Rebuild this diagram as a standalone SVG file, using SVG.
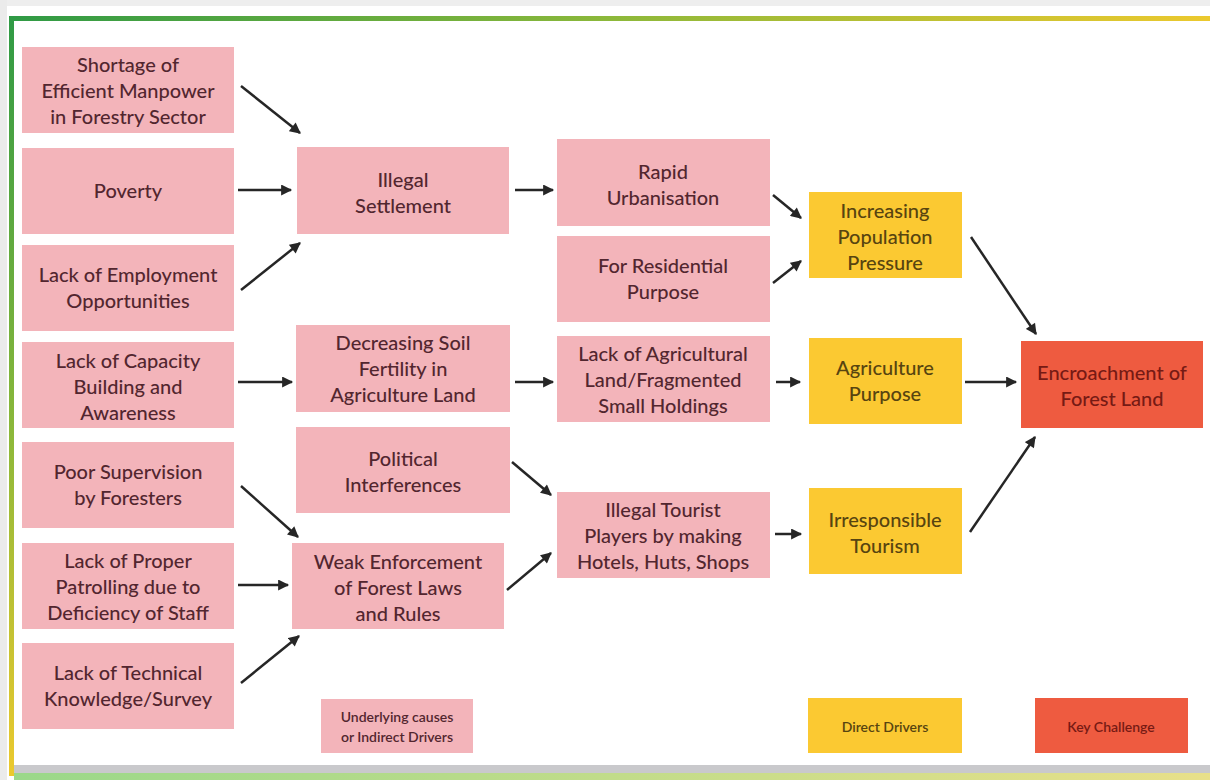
<svg xmlns="http://www.w3.org/2000/svg" width="1210" height="780" viewBox="0 0 1210 780">
<defs>
<linearGradient id="gTop" x1="0" y1="0" x2="1" y2="0">
<stop offset="0" stop-color="#2f9a45"/>
<stop offset="0.5" stop-color="#8cb83a"/>
<stop offset="1" stop-color="#ecc92e"/>
</linearGradient>
<linearGradient id="gLeft" x1="0" y1="0" x2="0" y2="1">
<stop offset="0" stop-color="#2f9a45"/>
<stop offset="0.55" stop-color="#8cb83a"/>
<stop offset="1" stop-color="#ecc92e"/>
</linearGradient>
<linearGradient id="gBot" x1="0" y1="0" x2="1" y2="0">
<stop offset="0" stop-color="#9ad88a"/>
<stop offset="1" stop-color="#e8e08a"/>
</linearGradient>
<marker id="ah" viewBox="0 0 10 10" refX="9" refY="5" markerWidth="4.8" markerHeight="4.4" orient="auto" markerUnits="strokeWidth">
<path d="M0,0 L10,5 L0,10 z" fill="#262626"/>
</marker>
</defs>
<style>
.p{fill:#f3b4ba}
.y{fill:#fbc932}
.r{fill:#ee5b40}
text{font-family:Lato,"Open Sans","Liberation Sans",sans-serif;font-size:20px;font-weight:500;text-anchor:middle;dominant-baseline:central}
.tp{fill:#52262f}
.ty{fill:#574410}
.tr{fill:#761a14}
.sm{font-size:14px;font-weight:600}
.c line{stroke:#262626;stroke-width:2.5;marker-end:url(#ah)}
</style>
<rect width="1210" height="780" fill="#ffffff"/>
<rect x="0" y="0" width="1210" height="6" fill="#eeeeee"/>
<rect x="0" y="0" width="7" height="780" fill="#ebebeb"/>
<rect x="9" y="16" width="1201" height="5" fill="url(#gTop)"/>
<rect x="9" y="16" width="5" height="760" fill="url(#gLeft)"/>
<rect x="14" y="765" width="1196" height="8" fill="#c9c9cc"/>
<rect x="14" y="773" width="1196" height="7" fill="url(#gBot)"/>

<g id="n-shortage"><rect class="p" x="22" y="47" width="212" height="86"/><text class="tp" x="128" y="64">Shortage of</text><text class="tp" x="128" y="90">Efficient Manpower</text><text class="tp" x="128" y="116">in Forestry Sector</text></g>
<g id="n-poverty"><rect class="p" x="22" y="148" width="212" height="86"/><text class="tp" x="128" y="190">Poverty</text></g>
<g id="n-employment"><rect class="p" x="22" y="245" width="212" height="86"/><text class="tp" x="128" y="274">Lack of Employment</text><text class="tp" x="128" y="300">Opportunities</text></g>
<g id="n-capacity"><rect class="p" x="22" y="342" width="212" height="86"/><text class="tp" x="128" y="360">Lack of Capacity</text><text class="tp" x="128" y="386">Building and</text><text class="tp" x="128" y="412">Awareness</text></g>
<g id="n-supervision"><rect class="p" x="22" y="442" width="212" height="86"/><text class="tp" x="128" y="471">Poor Supervision</text><text class="tp" x="128" y="497">by Foresters</text></g>
<g id="n-patrolling"><rect class="p" x="22" y="543" width="212" height="86"/><text class="tp" x="128" y="560">Lack of Proper</text><text class="tp" x="128" y="586">Patrolling due to</text><text class="tp" x="128" y="612">Deficiency of Staff</text></g>
<g id="n-technical"><rect class="p" x="22" y="643" width="212" height="86"/><text class="tp" x="128" y="672">Lack of Technical</text><text class="tp" x="128" y="698">Knowledge/Survey</text></g>

<g id="n-settlement"><rect class="p" x="297" y="147" width="212" height="87"/><text class="tp" x="403" y="179">Illegal</text><text class="tp" x="403" y="205">Settlement</text></g>
<g id="n-soil"><rect class="p" x="296" y="325" width="214" height="87"/><text class="tp" x="403" y="342">Decreasing Soil</text><text class="tp" x="403" y="368">Fertility in</text><text class="tp" x="403" y="394">Agriculture Land</text></g>
<g id="n-political"><rect class="p" x="296" y="427" width="214" height="86"/><text class="tp" x="403" y="458">Political</text><text class="tp" x="403" y="484">Interferences</text></g>
<g id="n-weak"><rect class="p" x="292" y="543" width="212" height="86"/><text class="tp" x="398" y="561">Weak Enforcement</text><text class="tp" x="398" y="587">of Forest Laws</text><text class="tp" x="398" y="613">and Rules</text></g>

<g id="n-urban"><rect class="p" x="557" y="139" width="213" height="87"/><text class="tp" x="663" y="171">Rapid</text><text class="tp" x="663" y="197">Urbanisation</text></g>
<g id="n-residential"><rect class="p" x="557" y="236" width="213" height="86"/><text class="tp" x="663" y="265">For Residential</text><text class="tp" x="663" y="291">Purpose</text></g>
<g id="n-agland"><rect class="p" x="557" y="336" width="213" height="86"/><text class="tp" x="663" y="353">Lack of Agricultural</text><text class="tp" x="663" y="379">Land/Fragmented</text><text class="tp" x="663" y="405">Small Holdings</text></g>
<g id="n-tourist"><rect class="p" x="557" y="492" width="213" height="86"/><text class="tp" x="663" y="509">Illegal Tourist</text><text class="tp" x="663" y="535">Players by making</text><text class="tp" x="663" y="561">Hotels, Huts, Shops</text></g>

<g id="n-population"><rect class="y" x="809" y="192" width="153" height="86"/><text class="ty" x="885" y="210">Increasing</text><text class="ty" x="885" y="236">Population</text><text class="ty" x="885" y="262">Pressure</text></g>
<g id="n-agriculture"><rect class="y" x="809" y="338" width="153" height="86"/><text class="ty" x="885" y="367">Agriculture</text><text class="ty" x="885" y="393">Purpose</text></g>
<g id="n-tourism"><rect class="y" x="809" y="488" width="153" height="86"/><text class="ty" x="885" y="519">Irresponsible</text><text class="ty" x="885" y="545">Tourism</text></g>

<g id="n-encroachment"><rect class="r" x="1021" y="341" width="182" height="87"/><text class="tr" x="1112" y="372">Encroachment of</text><text class="tr" x="1112" y="398">Forest Land</text></g>

<g id="legend-indirect"><rect class="p" x="321" y="699" width="152" height="54"/><text class="tp sm" x="397" y="716">Underlying causes</text><text class="tp sm" x="397" y="736">or Indirect Drivers</text></g>
<g id="legend-direct"><rect class="y" x="808" y="698" width="154" height="55"/><text class="ty sm" x="885" y="726">Direct Drivers</text></g>
<g id="legend-key"><rect class="r" x="1035" y="698" width="153" height="55"/><text class="tr sm" x="1111" y="726">Key Challenge</text></g>

<g id="connectors" class="c">
<line x1="241" y1="86" x2="300" y2="133"/>
<line x1="238" y1="190" x2="291" y2="190"/>
<line x1="241" y1="290" x2="300" y2="243"/>
<line x1="515" y1="190" x2="553" y2="190"/>
<line x1="773" y1="195" x2="801" y2="218"/>
<line x1="773" y1="283" x2="801" y2="261"/>
<line x1="971" y1="237" x2="1036" y2="334"/>
<line x1="238" y1="382" x2="292" y2="382"/>
<line x1="515" y1="382" x2="553" y2="382"/>
<line x1="776" y1="382" x2="800" y2="382"/>
<line x1="965" y1="382" x2="1016" y2="382"/>
<line x1="512" y1="462" x2="551" y2="495"/>
<line x1="507" y1="590" x2="551" y2="553"/>
<line x1="775" y1="534" x2="801" y2="534"/>
<line x1="970" y1="532" x2="1035" y2="437"/>
<line x1="241" y1="486" x2="298" y2="537"/>
<line x1="238" y1="585" x2="288" y2="585"/>
<line x1="241" y1="683" x2="299" y2="636"/>
</g>
</svg>
